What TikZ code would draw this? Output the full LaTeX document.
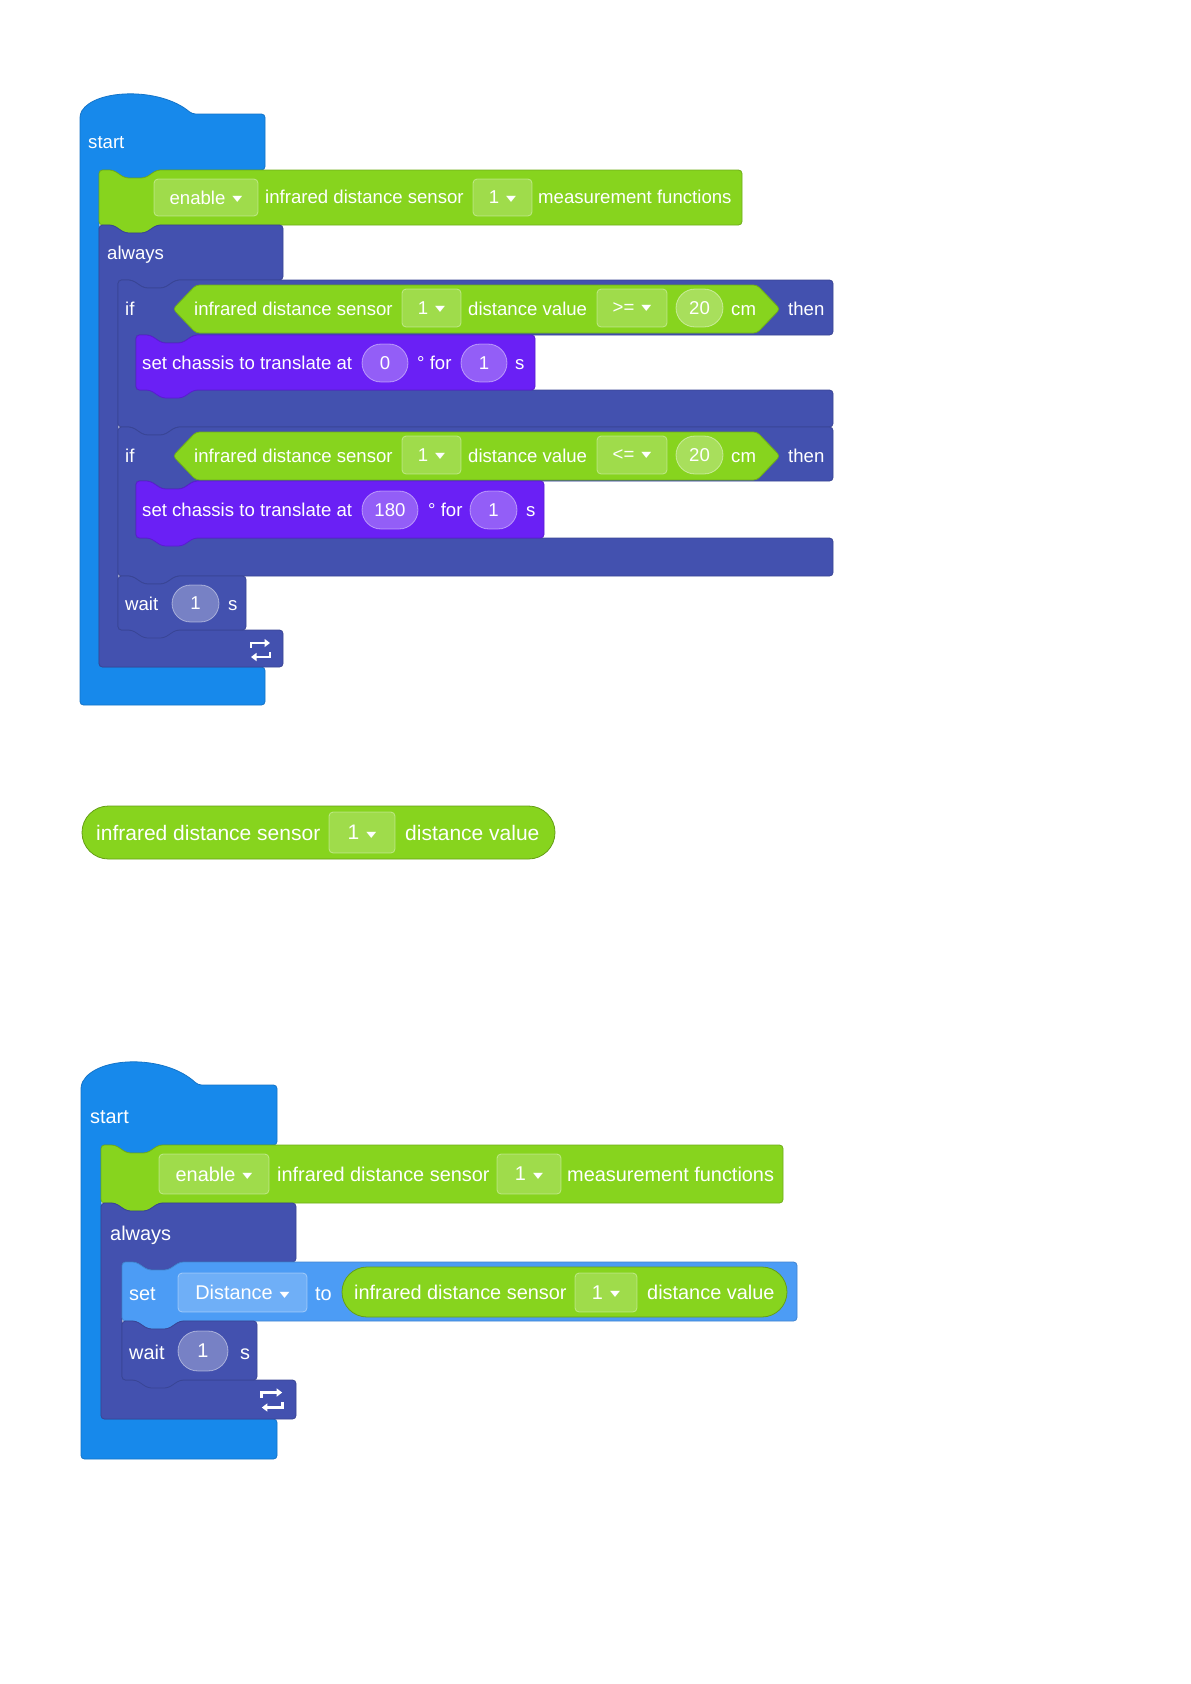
\documentclass[tikz,border=0pt]{standalone}
\usepackage{fontspec}
\setmainfont{Liberation Sans}
\newfontfamily\symfont{DejaVu Sans}
\usetikzlibrary{arrows.meta,shapes.misc}

\definecolor{startblue}{HTML}{1789EB}
\definecolor{evgreen}{HTML}{87D41E}
\definecolor{ctrlindigo}{HTML}{4351AF}
\definecolor{motpurple}{HTML}{6A20F5}
\definecolor{varblue}{HTML}{4C9CF5}

% flecha del menu desplegable
\newcommand{\tri}{\hspace{7pt}{\symfont\fontsize{13}{13}\selectfont\raisebox{2.5pt}{\scalebox{1}[0.62]{▼}}}}
% muesca superior y pestaña inferior de un bloque
\newcommand{\notchR}[2]{-- ({#1+14},#2) -- ({#1+26},{#2+8}) -- ({#1+46},{#2+8}) -- ({#1+58},#2)}
\newcommand{\tabL}[2]{-- ({#1+58},#2) -- ({#1+46},{#2+8}) -- ({#1+26},{#2+8}) -- ({#1+14},#2)}
\newcommand{\stackblk}[5]{\filldraw[#1] (#2,#3) \notchR{#2}{#3} -- (#4,#3) -- (#4,#5) \tabL{#2}{#5} -- (#2,#5) -- cycle;}
\newcommand{\loopicon}[3]{%
  \begin{scope}[shift={(#1,#2)}, scale=#3]
    \draw[loopline] (-9.5,-2) -- (-9.5,-7) -- (9.5,-7);
    \draw[loopline] (9.5,2) -- (9.5,7) -- (-9.5,7);
  \end{scope}}

\begin{document}
\begin{tikzpicture}[
    x=1pt, y=-1pt,
    blk/.style={line width=0.8pt, rounded corners=3.5pt},
    startblk/.style={blk, fill=startblue, draw=startblue!85!black},
    evblk/.style={blk, fill=evgreen, draw=evgreen!82!black},
    evpill/.style={rounded rectangle, inner sep=0pt, line width=0.8pt, fill=evgreen, draw=evgreen!75!black},
    ctrlblk/.style={blk, fill=ctrlindigo, draw=ctrlindigo!85!black},
    motblk/.style={blk, fill=motpurple, draw=motpurple!85!black},
    varblk/.style={blk, fill=varblue, draw=varblue!85!black},
    fA/.style={font=\fontsize{18.6}{22}\selectfont},
    fB/.style={font=\fontsize{19.9}{24}\selectfont},
    fC/.style={font=\fontsize{21}{25}\selectfont},
    txt/.style={text=white, inner sep=0pt, anchor=base west},
    txtA/.style={txt, fA, yshift=-6.9pt},
    txtB/.style={txt, fB, yshift=-7.4pt},
    txtC/.style={txt, fC, yshift=-7.8pt},
    menu/.style={rectangle, rounded corners=4pt, fill=white, fill opacity=0.2, draw=white, draw opacity=0.4, text opacity=1, text=white, inner sep=0pt, line width=0.8pt},
    oval/.style={rounded rectangle, fill=white, fill opacity=0.28, draw=white, draw opacity=0.45, text opacity=1, text=white, inner sep=0pt, line width=0.8pt},
    loopline/.style={white, line width=2.8pt, -{Triangle[length=5.5pt,width=8pt]}}
    ]

    \fill[white] (0,0) rectangle (1191,1684);

    % Programa 1: start
    \filldraw[startblk] (80,114) .. controls (95,89) and (160,87) .. (192,114) -- (265,114) -- (265,170) \tabL{99}{170} -- (99,170) -- (99,667) -- (265,667) -- (265,705) -- (80,705) -- cycle;
    \node[txtA] (start1) at (88,142) {start};

    % Programa 1: activar sensor
    \stackblk{evblk}{99}{170}{742}{225}
    \node[menu, fA, minimum width=104pt, minimum height=37pt] (enable1) at (206,197.5) {enable\tri};
    \node[txtA] (ir1) at (265,197) {infrared distance sensor};
    \node[menu, fA, minimum width=59pt, minimum height=37pt] (port1) at (502.5,197.5) {1\tri};
    \node[txtA] (meas1) at (538,197) {measurement functions};

    % Programa 1: always
    \filldraw[ctrlblk] (99,225) \notchR{99}{225} -- (283,225) -- (283,280) \tabL{118}{280} -- (118,280) -- (118,630) -- (283,630) -- (283,667) -- (99,667) -- cycle;
    \node[txtA] (always1) at (107,253) {always};
    \loopicon{260.5}{650}{1}

    % Programa 1: primer if
    \filldraw[ctrlblk] (118,280) \notchR{118}{280} -- (833,280) -- (833,335) \tabL{136}{335} -- (136,335) -- (136,390) -- (833,390) -- (833,427) \tabL{118}{427} -- (118,427) -- cycle;
    \filldraw[evblk] (173,309) -- (196,285) -- (757,285) -- (780,309) -- (757,333) -- (196,333) -- cycle;
    \node[txtA] (if1) at (125,309) {if};
    \node[txtA] (irc1) at (194,309) {infrared distance sensor};
    \node[menu, fA, minimum width=59pt, minimum height=38pt] (portc1) at (431.5,308) {1\tri};
    \node[txtA] (dist1) at (468,309) {distance value};
    \node[menu, fA, minimum width=70pt, minimum height=38pt] (op1) at (632,308) {>=\tri};
    \node[oval, fA, minimum width=47pt, minimum height=38pt] (thr1) at (699.5,308) {20};
    \node[txtA] (cm1) at (731,309) {cm};
    \node[txtA] (then1) at (788,309) {then};

    \stackblk{motblk}{136}{335}{535}{390}
    \node[txtA] (move1) at (142,363) {set chassis to translate at};
    \node[oval, fA, minimum width=46pt, minimum height=38pt] (ang1) at (385,363) {0};
    \node[txtA] (for1) at (417,363) {° for};
    \node[oval, fA, minimum width=46pt, minimum height=38pt] (sec1) at (484,363) {1};
    \node[txtA] (s1) at (515,363) {s};

    % Programa 1: segundo if
    \filldraw[ctrlblk] (118,427) \notchR{118}{427} -- (833,427) -- (833,481) \tabL{136}{481} -- (136,481) -- (136,538) -- (833,538) -- (833,576) \tabL{118}{576} -- (118,576) -- cycle;
    \filldraw[evblk] (173,456) -- (196,432) -- (757,432) -- (780,456) -- (757,480) -- (196,480) -- cycle;
    \node[txtA] (if2) at (125,456) {if};
    \node[txtA] (irc2) at (194,456) {infrared distance sensor};
    \node[menu, fA, minimum width=59pt, minimum height=38pt] (portc2) at (431.5,455) {1\tri};
    \node[txtA] (dist2) at (468,456) {distance value};
    \node[menu, fA, minimum width=70pt, minimum height=38pt] (op2) at (632,455) {<=\tri};
    \node[oval, fA, minimum width=47pt, minimum height=38pt] (thr2) at (699.5,455) {20};
    \node[txtA] (cm2) at (731,456) {cm};
    \node[txtA] (then2) at (788,456) {then};

    \stackblk{motblk}{136}{481}{544}{538}
    \node[txtA] (move2) at (142,510) {set chassis to translate at};
    \node[oval, fA, minimum width=56pt, minimum height=38pt] (ang2) at (390,510) {180};
    \node[txtA] (for2) at (428,510) {° for};
    \node[oval, fA, minimum width=47pt, minimum height=38pt] (sec2) at (493.5,510) {1};
    \node[txtA] (s2) at (526,510) {s};

    % Programa 1: wait
    \stackblk{ctrlblk}{118}{576}{246}{630}
    \node[txtA] (wait1) at (125,604) {wait};
    \node[oval, fA, minimum width=47pt, minimum height=37pt] (wt1) at (195.5,603.5) {1};
    \node[txtA] (ws1) at (228,604) {s};

    % Bloque suelto: valor de distancia
    \node[evpill, minimum width=473pt, minimum height=53pt] (rep) at (318.5,832.5) {};
    \node[txtC] (repir) at (96,833) {infrared distance sensor};
    \node[menu, fC, minimum width=66pt, minimum height=41pt] (repport) at (362,832.5) {1\tri};
    \node[txtC] (repdist) at (405,833) {distance value};

    % Programa 2: start
    \filldraw[startblk] (81,1085) .. controls (96,1056) and (165,1054) .. (198,1085) -- (277,1085) -- (277,1145) \tabL{101}{1145} -- (101,1145) -- (101,1419) -- (277,1419) -- (277,1459) -- (81,1459) -- cycle;
    \node[txtB] (start2) at (90,1116) {start};

    \stackblk{evblk}{101}{1145}{783}{1203}
    \node[menu, fB, minimum width=110pt, minimum height=40pt] (enable2) at (214,1174) {enable\tri};
    \node[txtB] (ir2) at (277,1174) {infrared distance sensor};
    \node[menu, fB, minimum width=64pt, minimum height=40pt] (port2) at (529,1174) {1\tri};
    \node[txtB] (meas2) at (567,1174) {measurement functions};

    % Programa 2: always
    \filldraw[ctrlblk] (101,1203) \notchR{101}{1203} -- (296,1203) -- (296,1262) \tabL{122}{1262} -- (122,1262) -- (122,1380) -- (296,1380) -- (296,1419) -- (101,1419) -- cycle;
    \node[txtB] (always2) at (110,1233) {always};
    \loopicon{272}{1400}{1.07}

    % Programa 2: set variable
    \stackblk{varblk}{122}{1262}{797}{1321}
    \node[txtB] (set2) at (129,1293) {set};
    \node[menu, fB, minimum width=129pt, minimum height=39pt] (var2) at (242.5,1292.5) {Distance\tri};
    \node[txtB] (to2) at (315,1293) {to};
    \node[evpill, minimum width=445pt, minimum height=50pt] (pill2) at (564.5,1292) {};
    \node[txtB] (irv2) at (354,1292) {infrared distance sensor};
    \node[menu, fB, minimum width=62pt, minimum height=39pt] (portv2) at (606,1292.5) {1\tri};
    \node[txtB] (distv2) at (647,1292) {distance value};

    % Programa 2: wait
    \stackblk{ctrlblk}{122}{1321}{257}{1380}
    \node[txtB] (wait2) at (129,1352) {wait};
    \node[oval, fB, minimum width=50pt, minimum height=40pt] (wt2) at (203,1351) {1};
    \node[txtB] (ws2) at (240,1352) {s};

\end{tikzpicture}
\end{document}
